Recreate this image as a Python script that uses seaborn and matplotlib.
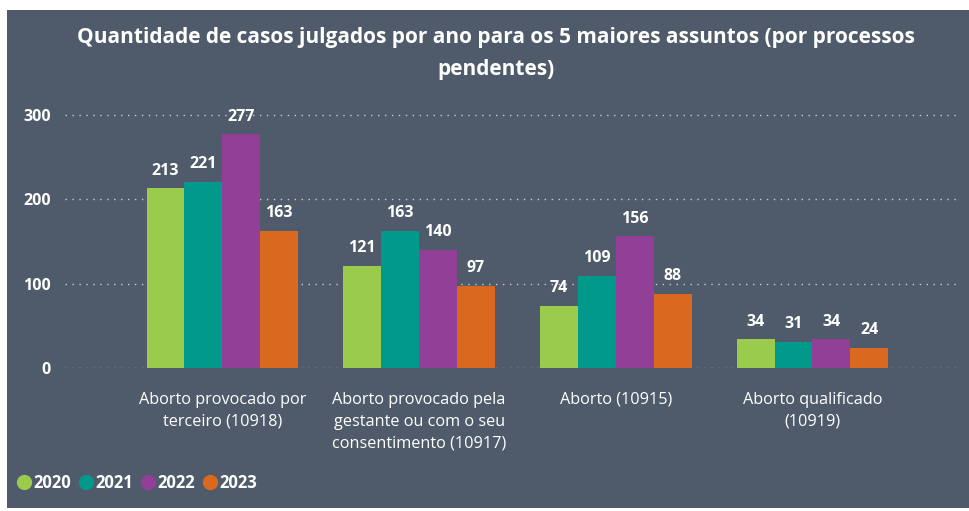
import matplotlib
matplotlib.use('Agg')
import matplotlib.pyplot as plt
from matplotlib.patches import Rectangle
from matplotlib.lines import Line2D
import seaborn as sns
import pandas as pd

# data
assuntos = ["Aborto provocado por\nterceiro (10918)",
            "Aborto provocado pela\ngestante ou com o seu\nconsentimento (10917)",
            "Aborto (10915)",
            "Aborto qualificado\n(10919)"]
anos = ["2020", "2021", "2022", "2023"]
v2020 = [213, 121, 74, 34]
v2021 = [221, 163, 109, 31]
v2022 = [277, 140, 156, 34]
v2023 = [163, 97, 88, 24]
cores = ["#9BCB4C", "#00998C", "#923F97", "#D9691F"]

rows = []
for ano, vals in zip(anos, [v2020, v2021, v2022, v2023]):
    for a, v in zip(assuntos, vals):
        rows.append({"assunto": a, "ano": ano, "casos": v})
df = pd.DataFrame(rows)

bg = "#4F5B6B"
sns.set_theme(style="dark")
plt.rcParams['font.family'] = ['Open Sans', 'DejaVu Sans']

fig = plt.figure(figsize=(9.69, 5.11), dpi=100)
fig.patch.set_facecolor("white")
fig.patches.append(Rectangle((7 / 969, 3 / 511), 1 - 7 / 969, 1 - 13 / 511,
                             transform=fig.transFigure, facecolor=bg,
                             edgecolor="none", zorder=-10))

ax = fig.add_axes([65 / 969, 1 - 368 / 511, (960 - 65) / 969, 258 / 511])
ax.set_facecolor("none")

sns.barplot(data=df, x="assunto", y="casos", hue="ano", palette=cores,
            width=0.77, gap=0, saturation=1, linewidth=0, edgecolor="none",
            ax=ax, legend=False)

for cont in ax.containers:
    ax.bar_label(cont, padding=7, color="white", fontsize=11.5, fontweight="bold")

ax.set_ylim(0, 306)
ax.set_xlim(-0.8, 3.75)
ax.set_yticks([0, 100, 200, 300])
ax.set_xlabel("")
ax.set_ylabel("")
ax.grid(axis="y", linestyle=(0, (1, 4)), color="#C8CDD4", linewidth=1)
ax.grid(axis="x", visible=False)
ax.set_axisbelow(True)
for s in ax.spines.values():
    s.set_visible(False)
ax.tick_params(axis="y", colors="white", labelsize=11.5, pad=10, length=0)
ax.tick_params(axis="x", colors="white", labelsize=11.7, pad=17, length=0)
for t in ax.get_yticklabels():
    t.set_fontweight("bold")
for t in ax.get_xticklabels():
    t.set_verticalalignment("top")
    t.set_linespacing(1.5)

fig.text(0.512, 1 - 38 / 511,
         "Quantidade de casos julgados por ano para os 5 maiores assuntos (por processos",
         ha="center", va="center", color="white", fontsize=15, fontweight="bold")
fig.text(0.512, 1 - 70 / 511, "pendentes)",
         ha="center", va="center", color="white", fontsize=15, fontweight="bold")

handles = [Line2D([], [], marker="o", linestyle="none", markersize=10,
                  markerfacecolor=c, markeredgecolor=c) for c in cores]
fig.legend(handles, anos, loc="center left", bbox_to_anchor=(6 / 969, 1 - 483 / 511),
           ncol=4, frameon=False, handlelength=0.8, handletextpad=0.15,
           columnspacing=0.5, borderpad=0.2,
           labelcolor="white", prop={"size": 12, "weight": "bold"})

plt.savefig("out.png", dpi=100)
